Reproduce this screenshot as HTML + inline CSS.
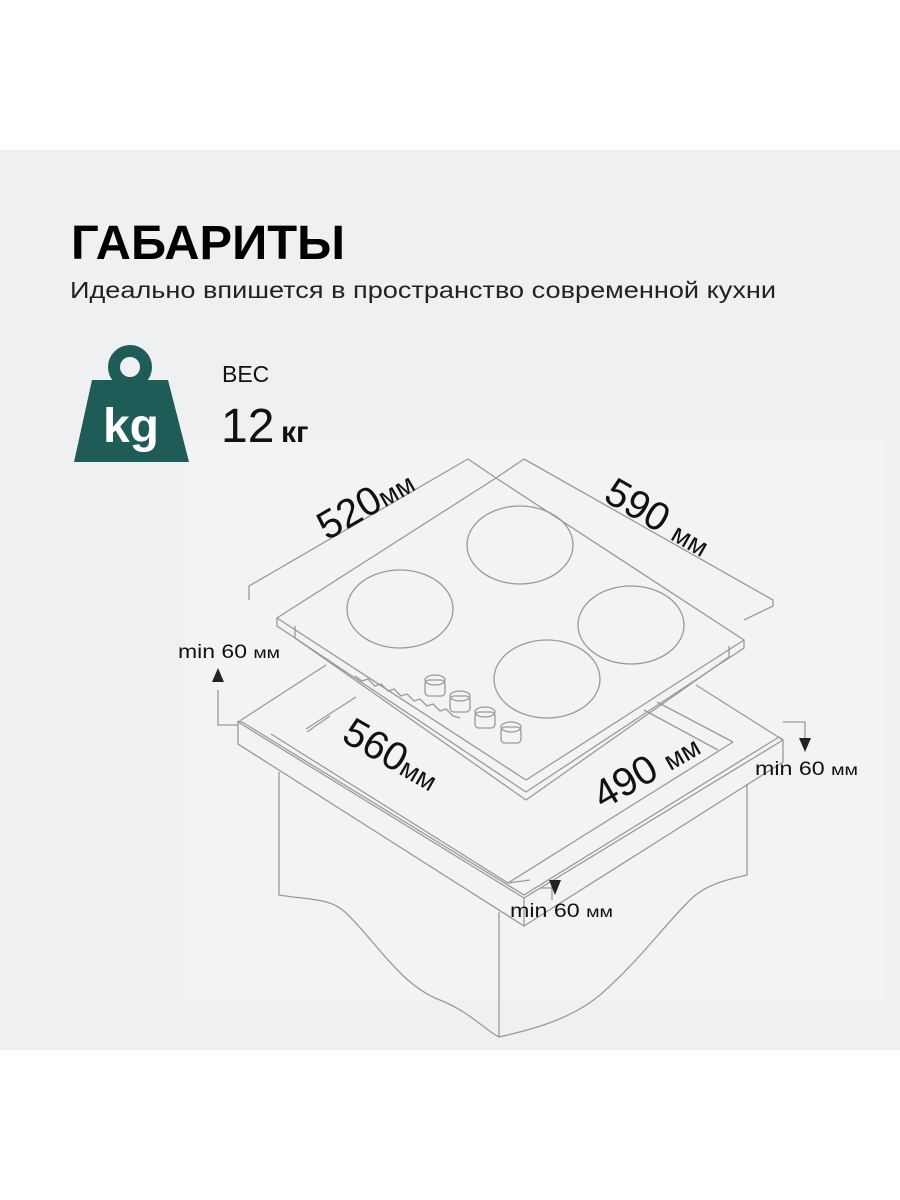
<!DOCTYPE html>
<html><head><meta charset="utf-8"><style>
html,body{margin:0;padding:0;background:#fff;}
svg{display:block}
</style></head><body>
<svg width="900" height="1200" viewBox="0 0 900 1200" xmlns="http://www.w3.org/2000/svg" font-family="Liberation Sans, sans-serif">
<rect x="0" y="0" width="900" height="1200" fill="#fff"/>
<rect x="0" y="150" width="900" height="900" fill="#eff0f2"/>
<rect x="185" y="440" width="700" height="560" fill="#f2f3f5"/>
<text x="71" y="259" font-size="48" font-weight="bold" textLength="274" lengthAdjust="spacingAndGlyphs" fill="#000">ГАБАРИТЫ</text>
<text x="70" y="298" font-size="23" textLength="706" lengthAdjust="spacingAndGlyphs" fill="#222">Идеально впишется в пространство современной кухни</text>
<circle cx="130" cy="367" r="16" fill="none" stroke="#1d5c57" stroke-width="12"/>
<polygon points="92,380 168,380 189,462 74,462" fill="#1d5c57"/>
<text x="131" y="442" font-size="48" font-weight="bold" fill="#fff" text-anchor="middle">kg</text>
<text x="222" y="382" font-size="23" fill="#111">ВЕС</text>
<text x="221" y="442" font-size="48" fill="#111">12</text>
<text x="281" y="442" font-size="30" font-weight="bold" fill="#111">кг</text>
<g fill="none" stroke="#9a9a9a" stroke-width="1.3">
<polyline points="249,600 249,586 468,459 496,478"/>
<polyline points="524,459 496,478"/>
<polyline points="524,459 773,600 773,606 744,620"/>
<polygon points="496,478 277,618 526,780 744,640"/>
<polyline points="277,618 277,626 526,792 744,648 744,640"/>
<polyline points="295,626 295,638 526,800 729,657 729,646"/>
<ellipse cx="520" cy="545" rx="53" ry="39"/>
<ellipse cx="400" cy="609" rx="53" ry="39"/>
<ellipse cx="631" cy="625" rx="53" ry="39"/>
<ellipse cx="547" cy="679" rx="53" ry="39"/>
<g>
<rect x="425" y="680" width="20" height="16" rx="4"/><ellipse cx="435" cy="680" rx="10" ry="5"/>
<rect x="450" y="696" width="20" height="16" rx="4"/><ellipse cx="460" cy="696" rx="10" ry="5"/>
<rect x="475" y="712" width="20" height="16" rx="4"/><ellipse cx="485" cy="712" rx="10" ry="5"/>
<rect x="501" y="727" width="20" height="16" rx="4"/><ellipse cx="511" cy="727" rx="10" ry="5"/>
</g>
<polyline points="355,676 362,681 368,679 375,686 381,684 388,691 394,689 401,696 407,694 414,701 420,699 427,706 433,704 440,711 446,709 453,716 460,718"/>
<polygon points="238,722 524,898 783,740 779,737 524,895 242,722"/>
<polyline points="238,722 238,744 524,926 783,762 783,740"/>
<line x1="524" y1="898" x2="524" y2="926"/>
<line x1="238" y1="722" x2="326" y2="665"/>
<line x1="783" y1="740" x2="696" y2="685"/>
<polyline points="271,734 508,883 733,742"/>
<polyline points="306,729 356,697"/>
<polyline points="307,732 330,716"/>
<line x1="657" y1="702" x2="733" y2="742"/>
<line x1="644" y1="710" x2="718" y2="750"/>
<line x1="508" y1="883" x2="530" y2="880"/>
<path d="M279,772 L279,895 C310,900 330,898 345,912 C375,940 400,985 440,1000 C470,1012 485,1030 499,1037"/>
<line x1="499" y1="912" x2="499" y2="1037"/>
<path d="M747,784 L747,875 C725,880 705,885 690,900 C660,930 640,960 600,995 C570,1020 530,1030 499,1037"/>
<polyline points="218,690 218,725 238,725"/>
<polyline points="783,722 805,722 805,740"/>
<polyline points="540,888 552,888 552,880"/>
<line x1="552" y1="880" x2="552" y2="900"/>
</g>
<polygon points="218,668 212,682 224,682" fill="#222"/>
<polygon points="805,752 799,738 811,738" fill="#222"/>
<polygon points="555,895 549,880 561,880" fill="#222"/>
<g fill="#111">
<text font-size="40" transform="translate(327,541) rotate(-30)">520<tspan font-size="27">мм</tspan></text>
<text font-size="40" transform="translate(602,500) rotate(30)">590 <tspan font-size="27">мм</tspan></text>
<text font-size="40" transform="translate(340,740) rotate(30)">560<tspan font-size="27">мм</tspan></text>
<text font-size="40" transform="translate(603,810) rotate(-30)">490 <tspan font-size="27">мм</tspan></text>
<text x="178" y="658" font-size="19" textLength="102" lengthAdjust="spacingAndGlyphs">min 60 <tspan font-size="16">мм</tspan></text>
<text x="755" y="775" font-size="19" textLength="103" lengthAdjust="spacingAndGlyphs">min 60 <tspan font-size="16">мм</tspan></text>
<text x="510" y="917" font-size="19" textLength="103" lengthAdjust="spacingAndGlyphs">min 60 <tspan font-size="16">мм</tspan></text>
</g>
</svg>
</body></html>
